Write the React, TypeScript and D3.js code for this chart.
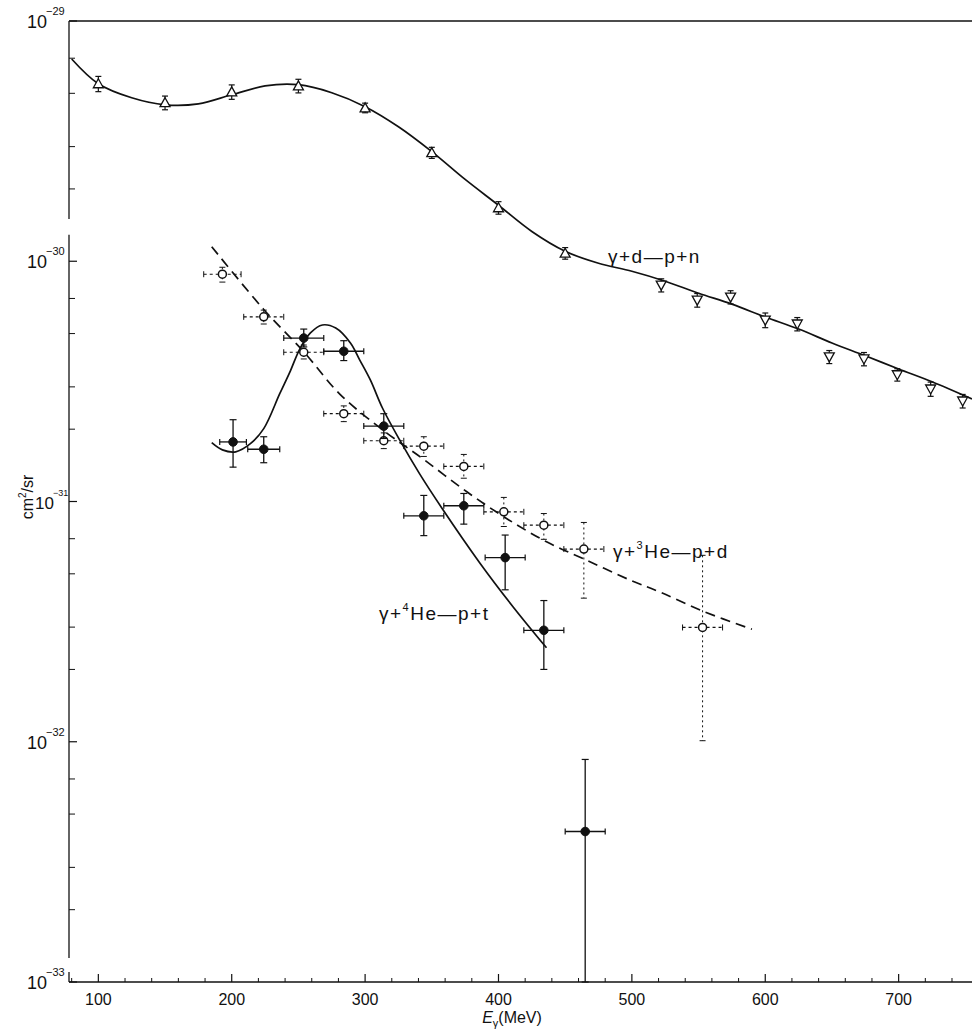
import React from "react";
import * as d3 from "d3";

// ---------- data ----------
// gamma + d -> p + n (upward triangles)
const dUpE = [100, 150, 200, 250, 300, 350, 400, 450];
const dUpV = [5.48e-30, 4.57e-30, 5.07e-30, 5.37e-30, 4.35e-30, 2.83e-30, 1.67e-30, 1.08e-30];
const dUpErr = [0.4e-30, 0.3e-30, 0.35e-30, 0.35e-30, 0.2e-30, 0.15e-30, 0.1e-30, 0.06e-30];
// gamma + d -> p + n (downward triangles)
const dDnE = [522, 549, 574, 600, 624, 648, 674, 699, 724, 748];
const dDnV = [7.95e-31, 6.89e-31, 7.09e-31, 5.69e-31, 5.48e-31, 4.0e-31, 3.92e-31, 3.37e-31, 2.94e-31, 2.62e-31];
const dDnErr = [0.5e-31, 0.45e-31, 0.45e-31, 0.4e-31, 0.35e-31, 0.25e-31, 0.25e-31, 0.2e-31, 0.2e-31, 0.17e-31];
// deuteron fit curve
const dCurveE = [80, 100, 125, 150, 175, 200, 225, 250, 275, 300, 325, 350, 375, 400, 425, 450, 475, 500, 525, 550, 575, 600, 625, 650, 675, 700, 725, 755];
const dCurveV = [6.95e-30, 5.48e-30, 4.79e-30, 4.48e-30, 4.52e-30, 4.93e-30, 5.37e-30, 5.43e-30, 5.03e-30, 4.4e-30, 3.63e-30, 2.86e-30, 2.19e-30, 1.71e-30, 1.33e-30, 1.1e-30, 9.81e-31, 9.09e-31, 8.26e-31, 7.36e-31, 6.63e-31, 5.86e-31, 5.22e-31, 4.57e-31, 4.04e-31, 3.56e-31, 3.15e-31, 2.67e-31];

// gamma + 3He -> p + d (open circles, dotted error bars)
const he3E = [193, 224, 254, 284, 314, 344, 374, 404, 434, 464, 553];
const he3V = [8.83e-31, 5.87e-31, 4.18e-31, 2.32e-31, 1.79e-31, 1.7e-31, 1.4e-31, 9.06e-32, 7.97e-32, 6.34e-32, 2.99e-32];
const he3Hi = [9.44e-31, 6.26e-31, 4.48e-31, 2.5e-31, 1.93e-31, 1.86e-31, 1.57e-31, 1.04e-31, 8.91e-32, 8.18e-32, 5.97e-32];
const he3Lo = [8.19e-31, 5.48e-31, 3.92e-31, 2.15e-31, 1.66e-31, 1.54e-31, 1.25e-31, 7.87e-32, 6.96e-32, 3.96e-32, 1.01e-32];
const he3Ew = [14, 15, 15, 15, 15, 15, 15, 15, 15, 15, 15];
const he3CurveE = [185, 224, 254, 281, 314, 343, 376, 406, 436, 466, 499, 521, 553, 590];
const he3CurveV = [1.15e-30, 6.3e-31, 4.2e-31, 2.8e-31, 1.97e-31, 1.51e-31, 1.1e-31, 8.5e-32, 6.8e-32, 5.7e-32, 4.7e-32, 4.2e-32, 3.5e-32, 2.94e-32];

// gamma + 4He -> p + t (filled circles, solid error bars)
const he4E = [201, 224, 254, 284, 314, 344, 374, 405, 434, 465];
const he4V = [1.77e-31, 1.65e-31, 4.79e-31, 4.22e-31, 2.06e-31, 8.72e-32, 9.6e-32, 5.84e-32, 2.91e-32, 4.23e-33];
const he4Hi = [2.19e-31, 1.86e-31, 5.22e-31, 4.67e-31, 2.32e-31, 1.06e-31, 1.08e-31, 7.25e-32, 3.87e-32, 8.44e-33];
const he4Lo = [1.39e-31, 1.45e-31, 4.4e-31, 3.86e-31, 1.83e-31, 7.21e-32, 8.05e-32, 4.29e-32, 2.0e-32, 1.0e-33];
const he4Ew = [10, 12, 15, 15, 15, 15, 15, 15, 15, 15];
const he4CurveE = [185, 193, 203, 214, 224, 236, 244, 251, 259, 268, 278, 289, 296, 304, 313, 326, 341, 358, 386, 411, 436];
const he4CurveV = [1.757e-31, 1.64e-31, 1.61e-31, 1.74e-31, 2.01e-31, 2.81e-31, 3.5e-31, 4.31e-31, 5.03e-31, 5.43e-31, 5.27e-31, 4.57e-31, 3.88e-31, 3.2e-31, 2.45e-31, 1.8e-31, 1.3e-31, 9.31e-32, 5.55e-32, 3.64e-32, 2.46e-32];

// axes
const xTicks = [100, 200, 300, 400, 500, 600, 700];
const yDecades = [-29, -30, -31, -32, -33];
const yMinorMult = [2, 3, 5, 7];
// y-axis breaks (value ranges where the axis line is interrupted)
const yBreaks: [number, number][] = [
  [1.29e-30, 1.5e-30],
  [1.1e-33, 1.26e-33],
];

const W = 972;
const H = 1031;
const FONT = "'Liberation Sans', 'DejaVu Sans', Arial, sans-serif";

export default function App() {
  const x = d3.scaleLinear().domain([78, 755]).range([69, 972]);
  const y = d3.scaleLog().domain([1e-33, 1e-29]).range([982, 21]);
  const x0 = x.range()[0];
  const x1 = x.range()[1];
  const yTop = y.range()[1];
  const yBot = y.range()[0];

  const line = d3
    .line<[number, number]>()
    .x((d) => x(d[0]))
    .y((d) => y(d[1]))
    .curve(d3.curveCatmullRom.alpha(0.5));

  const dCurve = line(dCurveE.map((e, i) => [e, dCurveV[i]]));
  const he3Curve = line(he3CurveE.map((e, i) => [e, he3CurveV[i]]));
  const he4Curve = line(he4CurveE.map((e, i) => [e, he4CurveV[i]]));

  // y axis segments
  const segs: [number, number][] = [];
  let cur = yTop;
  yBreaks
    .map(([lo, hi]) => [y(hi), y(lo)] as [number, number])
    .sort((a, b) => a[0] - b[0])
    .forEach(([a, b]) => {
      segs.push([cur, a]);
      cur = b;
    });
  segs.push([cur, yBot]);

  const minorX: number[] = [];
  for (let e = 80; e <= 750; e += 20) if (e % 100 !== 0) minorX.push(e);

  const minorY: number[] = [];
  for (let dcd = -33; dcd < -29; dcd++) {
    yMinorMult.forEach((m) => minorY.push(m * Math.pow(10, dcd)));
  }

  const tri = (cx: number, cy: number, up: boolean) => {
    const s = 5;
    return up
      ? `M${cx},${cy - s}L${cx + s},${cy + s * 0.8}L${cx - s},${cy + s * 0.8}Z`
      : `M${cx},${cy + s}L${cx + s},${cy - s * 0.8}L${cx - s},${cy - s * 0.8}Z`;
  };

  const stroke = "#111";

  return (
    <svg
      width={W}
      height={H}
      style={{ position: "absolute", left: 0, top: 0, background: "#fff" }}
      fontFamily={FONT}
    >
      <rect x={0} y={0} width={W} height={H} fill="#fff" />
      {/* frame */}
      <line x1={x0} x2={x1} y1={yTop} y2={yTop} stroke={stroke} strokeWidth={1.3} />
      <line x1={x0} x2={x1} y1={yBot} y2={yBot} stroke={stroke} strokeWidth={1.3} />
      {segs.map((s, i) => (
        <line key={i} x1={x0} x2={x0} y1={s[0]} y2={s[1]} stroke={stroke} strokeWidth={1.3} />
      ))}

      {/* x ticks */}
      {xTicks.map((t) => (
        <g key={t}>
          <line x1={x(t)} x2={x(t)} y1={yBot} y2={yBot - 8} stroke={stroke} strokeWidth={1.2} />
          <text x={x(t)} y={1005} textAnchor="middle" fontSize={16} fill="#111">
            {t}
          </text>
        </g>
      ))}
      {minorX.map((t) => (
        <line key={"m" + t} x1={x(t)} x2={x(t)} y1={yBot} y2={yBot - 4} stroke={stroke} strokeWidth={1} />
      ))}
      <text x={512} y={1023} textAnchor="middle" fontSize={16} fill="#111">
        <tspan fontStyle="italic">E</tspan>
        <tspan fontSize={11} dy={4}>γ</tspan>
        <tspan dy={-4}>(MeV)</tspan>
      </text>

      {/* y ticks */}
      {yDecades.map((d) => {
        const yy = y(Math.pow(10, d));
        const shifted = d === -31;
        return (
          <g key={d}>
            <line x1={x0} x2={x0 + 8} y1={yy} y2={yy} stroke={stroke} strokeWidth={1.2} />
            <text x={shifted ? 35 : 27} y={yy + 7} fontSize={shifted ? 17 : 18} fill="#111">
              10
            </text>
            <text x={shifted ? 53 : 46} y={yy - 6} fontSize={shifted ? 9 : 11} fill="#111">
              {"\u2212" + String(-d)}
            </text>
          </g>
        );
      })}
      {minorY.map((v, i) => (
        <line key={"my" + i} x1={x0} x2={x0 + 6} y1={y(v)} y2={y(v)} stroke={stroke} strokeWidth={1} />
      ))}
      <text
        transform={`translate(33,497) rotate(-90)`}
        textAnchor="middle"
        fontSize={16}
        fill="#111"
      >
        cm<tspan fontSize={10} dy={-7}>2</tspan>
        <tspan dy={7}>/sr</tspan>
      </text>

      {/* curves */}
      <path d={dCurve || ""} fill="none" stroke={stroke} strokeWidth={1.7} />
      <path d={he4Curve || ""} fill="none" stroke={stroke} strokeWidth={1.7} />
      <path d={he3Curve || ""} fill="none" stroke={stroke} strokeWidth={1.7} strokeDasharray="10,6" />

      {/* deuteron points */}
      {dUpE.map((e, i) => {
        const cx = x(e);
        const cy = y(dUpV[i]);
        const yh = y(dUpV[i] + dUpErr[i]);
        const yl = y(dUpV[i] - dUpErr[i]);
        return (
          <g key={"du" + i}>
            <line x1={cx} x2={cx} y1={yh} y2={yl} stroke={stroke} strokeWidth={1.2} />
            <line x1={cx - 3} x2={cx + 3} y1={yh} y2={yh} stroke={stroke} strokeWidth={1.2} />
            <line x1={cx - 3} x2={cx + 3} y1={yl} y2={yl} stroke={stroke} strokeWidth={1.2} />
            <path d={tri(cx, cy, true)} fill="#fff" stroke={stroke} strokeWidth={1.3} />
          </g>
        );
      })}
      {dDnE.map((e, i) => {
        const cx = x(e);
        const cy = y(dDnV[i]);
        const yh = y(dDnV[i] + dDnErr[i]);
        const yl = y(dDnV[i] - dDnErr[i]);
        return (
          <g key={"dd" + i}>
            <line x1={cx} x2={cx} y1={yh} y2={yl} stroke={stroke} strokeWidth={1.2} />
            <line x1={cx - 3} x2={cx + 3} y1={yh} y2={yh} stroke={stroke} strokeWidth={1.2} />
            <line x1={cx - 3} x2={cx + 3} y1={yl} y2={yl} stroke={stroke} strokeWidth={1.2} />
            <path d={tri(cx, cy, false)} fill="#fff" stroke={stroke} strokeWidth={1.3} />
          </g>
        );
      })}

      {/* He3 points */}
      {he3E.map((e, i) => {
        const cx = x(e);
        const cy = y(he3V[i]);
        const yh = y(he3Hi[i]);
        const yl = y(he3Lo[i]);
        const xl = x(e - he3Ew[i]);
        const xr = x(e + he3Ew[i]);
        return (
          <g key={"h3" + i}>
            <line x1={cx} x2={cx} y1={yh} y2={yl} stroke={stroke} strokeWidth={1} strokeDasharray="2,3" />
            <line x1={xl} x2={xr} y1={cy} y2={cy} stroke={stroke} strokeWidth={1.2} strokeDasharray="3,3" />
            <line x1={cx - 3} x2={cx + 3} y1={yh} y2={yh} stroke={stroke} strokeWidth={1} />
            <line x1={cx - 3} x2={cx + 3} y1={yl} y2={yl} stroke={stroke} strokeWidth={1} />
            <line x1={xl} x2={xl} y1={cy - 3} y2={cy + 3} stroke={stroke} strokeWidth={1} />
            <line x1={xr} x2={xr} y1={cy - 3} y2={cy + 3} stroke={stroke} strokeWidth={1} />
            <circle cx={cx} cy={cy} r={4} fill="#fff" stroke={stroke} strokeWidth={1.5} />
          </g>
        );
      })}

      {/* He4 points */}
      {he4E.map((e, i) => {
        const cx = x(e);
        const cy = y(he4V[i]);
        const yh = y(he4Hi[i]);
        const yl = y(he4Lo[i]);
        const xl = x(e - he4Ew[i]);
        const xr = x(e + he4Ew[i]);
        return (
          <g key={"h4" + i}>
            <line x1={cx} x2={cx} y1={yh} y2={yl} stroke={stroke} strokeWidth={1.3} />
            <line x1={xl} x2={xr} y1={cy} y2={cy} stroke={stroke} strokeWidth={1.3} />
            <line x1={cx - 3.5} x2={cx + 3.5} y1={yh} y2={yh} stroke={stroke} strokeWidth={1.2} />
            <line x1={cx - 3.5} x2={cx + 3.5} y1={yl} y2={yl} stroke={stroke} strokeWidth={1.2} />
            <line x1={xl} x2={xl} y1={cy - 3} y2={cy + 3} stroke={stroke} strokeWidth={1.2} />
            <line x1={xr} x2={xr} y1={cy - 3} y2={cy + 3} stroke={stroke} strokeWidth={1.2} />
            <circle cx={cx} cy={cy} r={4.3} fill="#111" stroke={stroke} strokeWidth={1} />
          </g>
        );
      })}

      {/* reaction labels */}
      <text x={608} y={263} fontSize={19} letterSpacing={1.5} fill="#111">
        γ+d—p+n
      </text>
      <text x={613} y={558} fontSize={19} letterSpacing={1.5} fill="#111">
        γ+<tspan fontSize={11} dy={-9}>3</tspan>
        <tspan dy={9}>He—p+d</tspan>
      </text>
      <text x={379} y={620} fontSize={19} letterSpacing={1.5} fill="#111">
        γ+<tspan fontSize={11} dy={-9}>4</tspan>
        <tspan dy={9}>He—p+t</tspan>
      </text>
    </svg>
  );
}
